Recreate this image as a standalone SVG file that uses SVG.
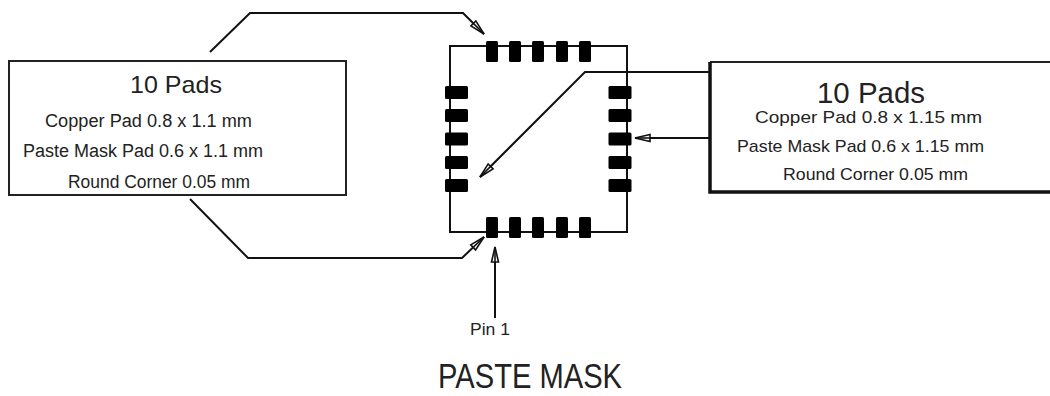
<svg xmlns="http://www.w3.org/2000/svg" width="1050" height="396" viewBox="0 0 1050 396">
<style>
.t{font-family:"Liberation Sans",Arial,sans-serif;fill:#222;}
.ln{fill:none;stroke:#111;stroke-width:2;}
.pad{fill:#000;}
.box{fill:#fff;stroke:#222;stroke-width:2;}
</style>
<defs>
<marker id="ah" viewBox="-18 -6 20 12" refX="0" refY="0" markerWidth="20" markerHeight="12" markerUnits="userSpaceOnUse" orient="auto">
<path d="M0,0 L-15,-3.5 L-15,3.5 Z" fill="#fff" stroke="#111" stroke-width="1.6" stroke-linejoin="miter"/>
<path d="M-15,0 L0,0" stroke="#111" stroke-width="1.6"/>
</marker>
</defs>
<rect width="1050" height="396" fill="#fff"/>

<g id="chip">
<rect x="450" y="46" width="177" height="186" class="ln"/>
<g id="top-pads">
<rect class="pad" x="486" y="41" width="12" height="21" rx="1.5"/>
<rect class="pad" x="509" y="41" width="12" height="21" rx="1.5"/>
<rect class="pad" x="532" y="41" width="12" height="21" rx="1.5"/>
<rect class="pad" x="556" y="41" width="12" height="21" rx="1.5"/>
<rect class="pad" x="579" y="41" width="12" height="21" rx="1.5"/>
</g>
<g id="bottom-pads">
<rect class="pad" x="486" y="217" width="12" height="21" rx="1.5"/>
<rect class="pad" x="509" y="217" width="12" height="21" rx="1.5"/>
<rect class="pad" x="532" y="217" width="12" height="21" rx="1.5"/>
<rect class="pad" x="556" y="217" width="12" height="21" rx="1.5"/>
<rect class="pad" x="579" y="217" width="12" height="21" rx="1.5"/>
</g>
<g id="left-pads">
<rect class="pad" x="445" y="86" width="23" height="13" rx="1.5"/>
<rect class="pad" x="445" y="109" width="23" height="13" rx="1.5"/>
<rect class="pad" x="445" y="132.5" width="23" height="13" rx="1.5"/>
<rect class="pad" x="445" y="156" width="23" height="13" rx="1.5"/>
<rect class="pad" x="445" y="179" width="23" height="13" rx="1.5"/>
</g>
<g id="right-pads">
<rect class="pad" x="608.5" y="86" width="23" height="13" rx="1.5"/>
<rect class="pad" x="608.5" y="109" width="23" height="13" rx="1.5"/>
<rect class="pad" x="608.5" y="132.5" width="23" height="13" rx="1.5"/>
<rect class="pad" x="608.5" y="156" width="23" height="13" rx="1.5"/>
<rect class="pad" x="608.5" y="179" width="23" height="13" rx="1.5"/>
</g>
</g>

<g id="left-note">
<rect class="box" x="9" y="61" width="337" height="134"/>
<text class="t" x="130" y="93" font-size="24" textLength="92" lengthAdjust="spacingAndGlyphs">10 Pads</text>
<text class="t" x="45" y="127" font-size="18" textLength="207" lengthAdjust="spacingAndGlyphs">Copper Pad 0.8 x 1.1 mm</text>
<text class="t" x="23" y="157" font-size="18" textLength="240" lengthAdjust="spacingAndGlyphs">Paste Mask Pad 0.6 x 1.1 mm</text>
<text class="t" x="68" y="188" font-size="18" textLength="182" lengthAdjust="spacingAndGlyphs">Round Corner 0.05 mm</text>
</g>

<g id="right-note">
<rect x="710" y="62" width="345" height="130" fill="#fff"/>
<path d="M1052,62 H710" fill="none" stroke="#222" stroke-width="2"/>
<path d="M710,62 V192 H1052" fill="none" stroke="#111" stroke-width="3.5"/>
<text class="t" x="817" y="103" font-size="29" textLength="108" lengthAdjust="spacingAndGlyphs">10 Pads</text>
<text class="t" x="755" y="123" font-size="17" textLength="227" lengthAdjust="spacingAndGlyphs">Copper Pad 0.8 x 1.15 mm</text>
<text class="t" x="737" y="152" font-size="17" textLength="247" lengthAdjust="spacingAndGlyphs">Paste Mask Pad 0.6 x 1.15 mm</text>
<text class="t" x="783" y="180" font-size="17" textLength="185" lengthAdjust="spacingAndGlyphs">Round Corner 0.05 mm</text>
</g>

<g id="pin1-label">
<text class="t" x="470" y="335" font-size="17" textLength="40" lengthAdjust="spacingAndGlyphs">Pin 1</text>
</g>

<g id="title">
<text class="t" x="438" y="388" font-size="35" textLength="184" lengthAdjust="spacingAndGlyphs">PASTE MASK</text>
</g>

<g id="connectors">
<path class="ln" d="M210,52 L250,13 H463 L484,34" marker-end="url(#ah)"/>
<path class="ln" d="M190,199 L248,258 H462 L484,237" marker-end="url(#ah)"/>
<path class="ln" d="M710,72 H585 L480,177" marker-end="url(#ah)"/>
<path class="ln" d="M710,138 H635" marker-end="url(#ah)"/>
<path class="ln" d="M495,318 V247" marker-end="url(#ah)"/>
</g>
</svg>
